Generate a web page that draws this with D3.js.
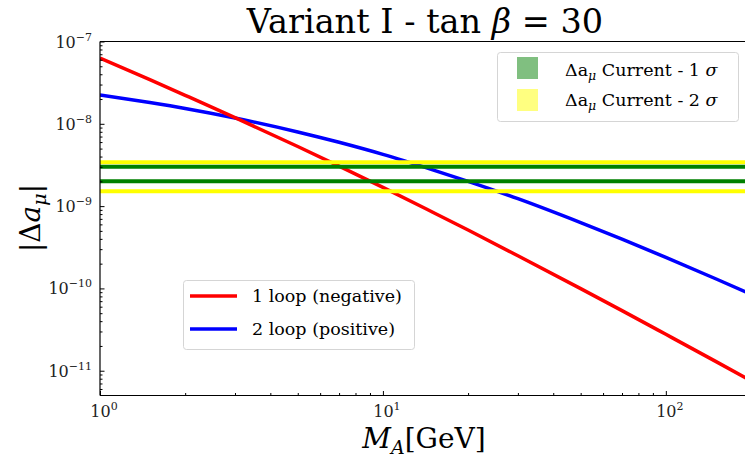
<!doctype html>
<html>
  <head>
    <script src="https://cdn.jsdelivr.net/npm/d3@7" type="text/JavaScript"></script>
    <style>
      body, html {
        margin: 0;
        background: #fff;
      }
      svg {
        display: block;
      }
      text {
        font-family: "DejaVu Serif", serif;
      }
      .tick line, .domain {
        stroke: #000;
      }
      path.curve {
        fill: none;
        stroke-width: 3.5;
      }
      line.band {
        stroke-width: 4;
      }
    </style>
  </head>
  <body>
    <svg width="745" height="460"></svg>
    <script>

      // masses M_A in GeV
      var massA = [1, 1.5, 2, 3, 5, 7, 10, 15, 20, 30, 50, 70, 100, 150, 200];
      // |Δa_μ|, one loop (negative)
      var oneLoop = [6.3e-8, 3.44e-8, 2.22e-8, 1.19e-8, 5.3e-9, 3.06e-9, 1.69e-9, 8.43e-10,
                     5.12e-10, 2.49e-10, 9.93e-11, 5.37e-11, 2.77e-11, 1.3e-11, 7.55e-12];
      // |Δa_μ|, two loop (positive)
      var twoLoop = [2.24e-8, 1.81e-8, 1.535e-8, 1.175e-8, 7.96e-9, 5.96e-9, 4.25e-9, 2.76e-9,
                     2.0e-9, 1.23e-9, 6.3e-10, 3.97e-10, 2.38e-10, 1.31e-10, 8.5e-11];
      // current Δa_μ bounds
      var sigma1 = [2.0e-9, 3.0e-9];
      var sigma2 = [1.52e-9, 3.4e-9];

      var yMajor = [-11, -10, -9, -8, -7];
      var xMajor = [0, 1, 2];

      var svg = d3.select("svg");
      var x = d3.scaleLog().domain([1, 200]).range([100, 751]);
      var y = d3.scaleLog().domain([5e-12, 1e-7]).range([395.5, 41.5]);

      var minorY = [];
      for (var e = -12; e <= -8; e++) {
        for (var m = 2; m <= 9; m++) {
          var v = m * Math.pow(10, e);
          if (v > 5e-12 && v < 1e-7) minorY.push(v);
        }
      }
      var minorX = [];
      for (var e = 0; e <= 2; e++) {
        for (var m = 2; m <= 9; m++) {
          var v = m * Math.pow(10, e);
          if (v < 200) minorX.push(v);
        }
      }

      svg.append("clipPath").attr("id", "plot")
        .append("rect").attr("x", 100).attr("y", 41.5).attr("width", 651).attr("height", 354);

      var plot = svg.append("g").attr("clip-path", "url(#plot)");

      // curves
      var line = d3.line()
        .x(d => x(d[0]))
        .y(d => y(d[1]))
        .curve(d3.curveMonotoneX);

      plot.append("path").attr("class", "curve")
        .attr("stroke", "#0000ff")
        .attr("d", line(d3.zip(massA, twoLoop)));
      plot.append("path").attr("class", "curve")
        .attr("stroke", "#ff0000")
        .attr("d", line(d3.zip(massA, oneLoop)));

      // bands
      plot.selectAll("line.s2").data(sigma2).enter().append("line")
        .attr("class", "band").attr("stroke", "#ffff00")
        .attr("x1", 100).attr("x2", 751)
        .attr("y1", d => y(d)).attr("y2", d => y(d));
      plot.selectAll("line.s1").data(sigma1).enter().append("line")
        .attr("class", "band").attr("stroke", "#008000")
        .attr("x1", 100).attr("x2", 751)
        .attr("y1", d => y(d)).attr("y2", d => y(d));

      // axes, ticks inward
      svg.append("g").attr("transform", "translate(100,0)")
        .call(d3.axisLeft(y).tickValues(minorY).tickSize(-2.5).tickFormat(""))
        .call(g => g.select(".domain").remove());
      svg.append("g").attr("transform", "translate(100,0)")
        .call(d3.axisLeft(y).tickValues(yMajor.map(d => Math.pow(10, d))).tickSize(-4.5).tickFormat(""))
        .call(g => g.select(".domain").remove());
      svg.append("g").attr("transform", "translate(0,395.5)")
        .call(d3.axisBottom(x).tickValues(minorX).tickSize(-2.5).tickFormat(""))
        .call(g => g.select(".domain").remove());
      svg.append("g").attr("transform", "translate(0,395.5)")
        .call(d3.axisBottom(x).tickValues(xMajor.map(d => Math.pow(10, d))).tickSize(-4.5).tickFormat(""))
        .call(g => g.select(".domain").remove());

      svg.append("line").attr("x1", 100).attr("x2", 100).attr("y1", 41.5).attr("y2", 395.5)
        .attr("stroke", "#000").attr("stroke-width", 1.2);
      svg.append("line").attr("x1", 100).attr("x2", 751).attr("y1", 395.5).attr("y2", 395.5)
        .attr("stroke", "#000").attr("stroke-width", 1.2);
      svg.append("line").attr("x1", 100).attr("x2", 751).attr("y1", 41.5).attr("y2", 41.5)
        .attr("stroke", "#000").attr("stroke-width", 1.2);

      // tick labels
      yMajor.forEach(function(d) {
        var t = svg.append("text")
          .attr("x", 92).attr("y", y(Math.pow(10, d)) + 6)
          .attr("text-anchor", "end")
          .attr("font-size", 16).attr("fill", "#222");
        t.append("tspan").text("10");
        t.append("tspan").attr("dy", -7).attr("font-size", 11).text("\u2212" + (-d));
      });
      xMajor.forEach(function(d) {
        var t = svg.append("text")
          .attr("x", x(Math.pow(10, d)) + 4).attr("y", 417)
          .attr("text-anchor", "middle")
          .attr("font-size", 16).attr("fill", "#222");
        t.append("tspan").text("10");
        t.append("tspan").attr("dy", -7).attr("font-size", 11).text(d);
      });

      // title
      var title = svg.append("text")
        .attr("x", 425).attr("y", 33)
        .attr("text-anchor", "middle")
        .attr("font-size", 33.5);
      title.append("tspan").text("Variant I - tan ");
      title.append("tspan").attr("font-style", "italic").text("\u03B2");
      title.append("tspan").text(" = 30");

      // axis labels
      var xl = svg.append("text")
        .attr("x", 424).attr("y", 448)
        .attr("text-anchor", "middle")
        .attr("font-size", 28);
      xl.append("tspan").attr("font-style", "italic").text("M");
      xl.append("tspan").attr("font-style", "italic").attr("font-size", 19).attr("dy", 6).text("A");
      xl.append("tspan").attr("dy", -6).text("[GeV]");

      var yl = svg.append("text")
        .attr("transform", "translate(40,218) rotate(-90)")
        .attr("text-anchor", "middle")
        .attr("font-size", 28);
      yl.append("tspan").text("|\u0394");
      yl.append("tspan").attr("font-style", "italic").text("a");
      yl.append("tspan").attr("font-style", "italic").attr("font-size", 19).attr("dy", 6).text("\u03BC");
      yl.append("tspan").attr("dy", -6).text("|");

      // legend: bands
      svg.append("rect")
        .attr("x", 497.5).attr("y", 52.5).attr("width", 241).attr("height", 69)
        .attr("rx", 3).attr("fill", "#fff").attr("fill-opacity", 0.8)
        .attr("stroke", "#d5d5d5");
      var bandLegend = [
        {color: "#80bf80", label: "1"},
        {color: "#ffff80", label: "2"}
      ];
      bandLegend.forEach(function(d, i) {
        svg.append("rect").attr("x", 517).attr("y", 57 + i * 32)
          .attr("width", 21).attr("height", 22).attr("fill", d.color);
        var t = svg.append("text").attr("x", 565).attr("y", 76 + i * 30)
          .attr("font-size", 17.5);
        t.append("tspan").text("\u0394a");
        t.append("tspan").attr("font-style", "italic").attr("font-size", 12.5).attr("dy", 4).text("\u03BC");
        t.append("tspan").attr("dy", -4).text(" Current - " + d.label + " ");
        t.append("tspan").attr("font-style", "italic").text("\u03C3");
      });

      // legend: curves
      svg.append("rect")
        .attr("x", 183.5).attr("y", 280.5).attr("width", 231).attr("height", 69)
        .attr("rx", 3).attr("fill", "#fff").attr("fill-opacity", 0.8)
        .attr("stroke", "#d5d5d5");
      var curveLegend = [
        {color: "#ff0000", label: "1 loop (negative)"},
        {color: "#0000ff", label: "2 loop (positive)"}
      ];
      curveLegend.forEach(function(d, i) {
        svg.append("line").attr("x1", 190).attr("x2", 237)
          .attr("y1", 296 + i * 33).attr("y2", 296 + i * 33)
          .attr("stroke", d.color).attr("stroke-width", 3.5);
        svg.append("text").attr("x", 252).attr("y", 302 + i * 33)
          .attr("font-size", 17.5).text(d.label);
      });
    </script>
  </body>
</html>
